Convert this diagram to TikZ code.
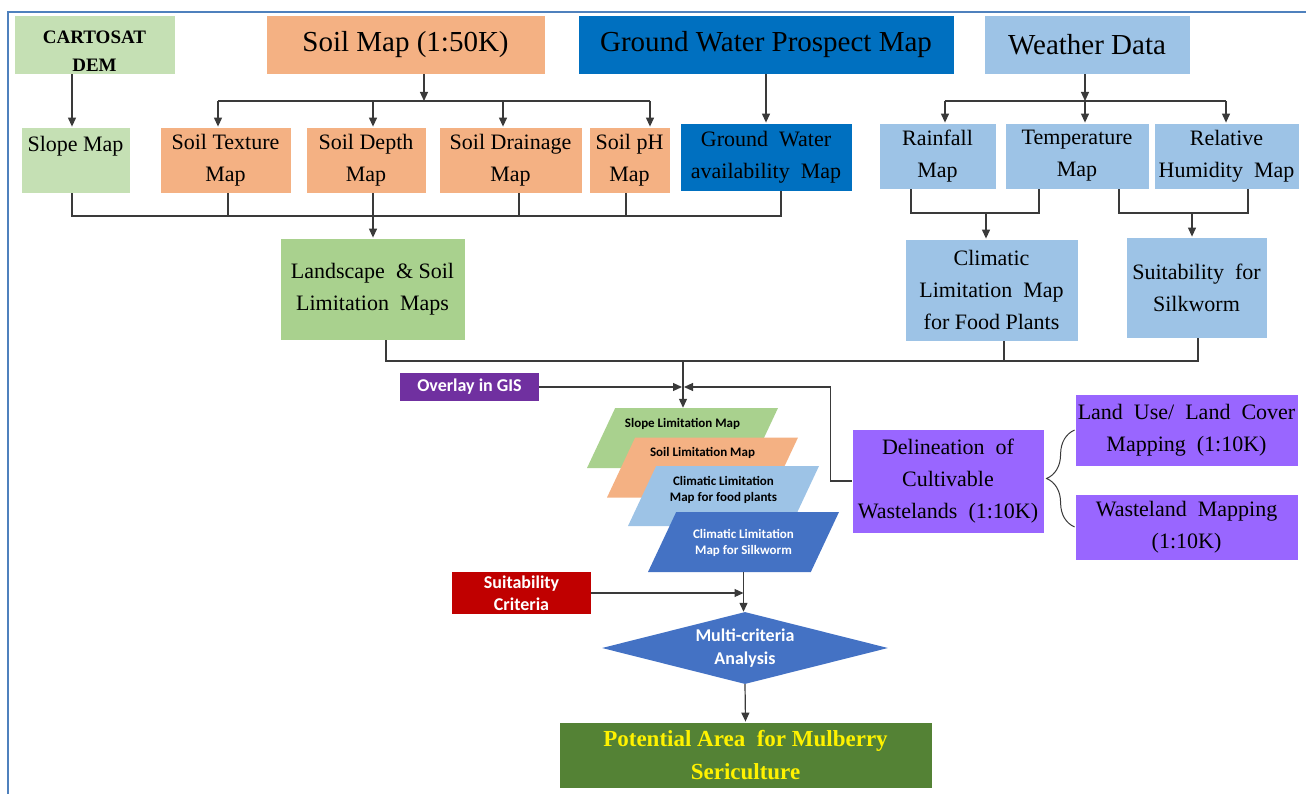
\documentclass[tikz,border=0pt]{standalone}
\usepackage{xcolor}
\usepackage{fontspec}
\setmainfont{Liberation Serif}
\newfontfamily\calibri{Carlito}
\usetikzlibrary{arrows.meta,positioning,shapes.geometric,decorations.pathreplacing}
\definecolor{LiteGreen}    {HTML}{C5E0B4}
\definecolor{SlopeGreen}   {HTML}{A9D18E}
\definecolor{SoilOrange}   {HTML}{F4B183}
\definecolor{WaterBlue}    {HTML}{0070C0}
\definecolor{SkyBlue}      {HTML}{9DC3E6}
\definecolor{LayerBlue}    {HTML}{4472C4}
\definecolor{OverlayPurple}{HTML}{7030A0}
\definecolor{WasteViolet}  {HTML}{9966FF}
\definecolor{CritRed}      {HTML}{C00000}
\definecolor{FinalGreen}   {HTML}{548235}
\definecolor{FrameBlue}    {HTML}{4F81BD}
\definecolor{LineGray}     {HTML}{3A3A3A}
\newcommand\titlesize{\rmfamily\fontsize{29pt}{34pt}\selectfont}
\newcommand\mapsize{\rmfamily\fontsize{22pt}{32pt}\selectfont}
\newcommand\demsize{\rmfamily\fontsize{19pt}{28pt}\selectfont\bfseries}
\newcommand\calsize{\calibri\bfseries\fontsize{18pt}{22pt}\selectfont}
\newcommand\calsmall{\calibri\bfseries\fontsize{13pt}{16pt}\selectfont}
\newcommand\finalsize{\rmfamily\fontsize{23pt}{33pt}\selectfont\bfseries}
\tikzset{
  mapbox/.style={draw=white,line width=0.8pt,inner sep=0pt,align=center,font=\mapsize},
  link/.style={draw=LineGray,line width=1.2pt},
  arr/.style={link,-{Triangle[length=9pt,width=8pt]}},
  layer/.style={trapezium,trapezium left angle=77,trapezium right angle=103,
    trapezium stretches=true,minimum width=191pt,minimum height=60pt,inner sep=0pt},
  layertext/.style={align=center,inner sep=0pt,font=\calsmall},
}

\begin{document}
\begin{tikzpicture}[x=1pt,y=-1pt]
  \useasboundingbox (0,0) rectangle (1306,794);
  \draw[FrameBlue,line width=2pt] (8,794) -- (8,12) -- (1306,12);

  % sources
  \node[mapbox,fill=LiteGreen,minimum width=161pt,minimum height=59pt,font=\demsize] (dem) at (94.5,44.5) {\rule{0pt}{27pt}CARTOSAT\\DEM};
  \node[mapbox,fill=SoilOrange,minimum width=279pt,minimum height=59pt,font=\titlesize] (soil) at (405.5,44.5) {Soil Map (1:50K)};
  \node[mapbox,fill=WaterBlue,minimum width=376pt,minimum height=59pt,font=\titlesize] (gwp) at (766,44.5) {Ground Water Prospect Map};
  \node[mapbox,fill=SkyBlue,minimum width=206pt,minimum height=59pt,font=\titlesize] (weather) at (1087,44.5) {Weather Data};

  % thematic maps
  \node[mapbox,fill=LiteGreen,minimum width=109pt,minimum height=66pt] (slope) at (75.5,160) {Slope Map\\~};
  \node[mapbox,fill=SoilOrange,minimum width=131pt,minimum height=66pt] (texture) at (225.5,160) {Soil Texture\\Map};
  \node[mapbox,fill=SoilOrange,minimum width=120pt,minimum height=66pt] (depth) at (366,160) {Soil Depth\\Map};
  \node[mapbox,fill=SoilOrange,minimum width=143pt,minimum height=66pt] (drainage) at (510.5,160) {Soil Drainage\\Map};
  \node[mapbox,fill=SoilOrange,minimum width=81pt,minimum height=66pt] (ph) at (629.5,160) {Soil pH\\Map};
  \node[mapbox,fill=WaterBlue,minimum width=172pt,minimum height=68pt] (gwa) at (766,157) {Ground\ \ Water\\availability\ \ Map};
  \node[mapbox,fill=SkyBlue,minimum width=117pt,minimum height=66pt] (rain) at (937.5,156) {Rainfall\\Map};
  \node[mapbox,fill=SkyBlue,minimum width=144pt,minimum height=66pt] (temp) at (1077,156) {Temperature\\Map};
  \node[mapbox,fill=SkyBlue,minimum width=145pt,minimum height=66pt] (rh) at (1226.5,156) {Relative\\Humidity\ \ Map};

  % limitation maps
  \node[mapbox,fill=SlopeGreen,minimum width=185pt,minimum height=102pt] (land) at (372.5,289) {Landscape\ \ \& Soil\\Limitation\ \ Maps};
  \node[mapbox,fill=SkyBlue,minimum width=173pt,minimum height=102pt] (clim) at (991.5,290) {Climatic\\Limitation\ \ Map\\for Food Plants};
  \node[mapbox,fill=SkyBlue,minimum width=141pt,minimum height=101pt] (silk) at (1196.5,287.5) {Suitability\ \ for\\Silkworm};

  % overlay
  \node[fill=OverlayPurple,text=white,font=\calsize,inner sep=0pt,minimum width=139pt,minimum height=28pt] (overlay) at (469.5,387) {Overlay in GIS};
  \node[layer,fill=SlopeGreen] (p1) at (682.5,438) {\phantom{X}};
  \node[layertext] (t1) at (682.5,424) {Slope Limitation Map};
  \node[layer,fill=SoilOrange] (p2) at (702.5,467.5) {\phantom{X}};
  \node[layertext] (t2) at (702.5,453) {Soil Limitation Map};
  \node[layer,fill=SkyBlue] (p3) at (723.5,496) {\phantom{X}};
  \node[layertext] (t3) at (723.5,490) {Climatic Limitation\\Map for food plants};
  \node[layer,fill=LayerBlue] (p4) at (743.5,542) {\phantom{X}};
  \node[layertext,text=white] (t4) at (743.5,543) {Climatic Limitation\\Map for Silkworm};

  % wastelands
  \node[mapbox,fill=WasteViolet,minimum width=192pt,minimum height=104pt] (delin) at (948,481) {Delineation\ \ of\\Cultivable\\Wastelands\ \ (1:10K)};
  \node[mapbox,fill=WasteViolet,minimum width=223pt,minimum height=72pt] (landuse) at (1186.5,430) {Land\ \ Use/\ \ Land\ \ Cover\\Mapping\ \ (1:10K)};
  \node[mapbox,fill=WasteViolet,minimum width=223pt,minimum height=66pt] (waste) at (1186.5,527) {Wasteland\ \ Mapping\\(1:10K)};

  % analysis
  \node[fill=CritRed,text=white,font=\calsize,align=center,inner sep=0pt,minimum width=139pt,minimum height=42pt] (suit) at (521.5,593) {Suitability\\Criteria};
  \node[diamond,aspect=3.97,fill=LayerBlue,text=white,align=center,inner sep=0pt,
        font={\calibri\bfseries\fontsize{18pt}{23pt}\selectfont},minimum width=286pt,minimum height=72pt] (mca) at (745,648) {Multi-criteria\\Analysis};
  \node[mapbox,fill=FinalGreen,text=yellow,font=\finalsize,minimum width=373pt,minimum height=66pt] (final) at (745.5,755) {Potential Area\ \ for Mulberry\\Sericulture};

  % top connectors
  \draw[arr] ([xshift=-3.5pt]slope.north |- dem.south) -- ([xshift=-3.5pt]slope.north);
  \coordinate (sj) at (424,101);
  \draw[arr] (sj |- soil.south) -- (sj);
  \draw[link] ([xshift=-7.5pt]texture.north |- sj) -- ([xshift=20.5pt]ph.north |- sj);
  \foreach \n/\dx in {texture/-7.5pt,depth/7pt,drainage/-7.5pt,ph/20.5pt}
    \draw[arr] ([xshift=\dx]\n.north |- sj) -- ([xshift=\dx]\n.north);
  \draw[arr] (gwp.south) -- (gwa.north);
  \coordinate (wj) at (1085,101);
  \draw[arr] (wj |- weather.south) -- (wj);
  \draw[link] ([xshift=7.5pt]rain.north |- wj) -- ([xshift=-0.5pt]rh.north |- wj);
  \foreach \n/\dx in {rain/7.5pt,temp/8pt,rh/-0.5pt}
    \draw[arr] ([xshift=\dx]\n.north |- wj) -- ([xshift=\dx]\n.north);

  % collecting lines
  \coordinate (bj) at (373,216);
  \draw[link] ([xshift=-3.5pt]slope.south) |- ([xshift=15pt]gwa.south |- bj) -- ([xshift=15pt]gwa.south);
  \foreach \n/\dx in {texture/2.5pt,depth/7pt,drainage/8.5pt,ph/-3.5pt}
    \draw[link] ([xshift=\dx]\n.south) -- ([xshift=\dx]\n.south |- bj);
  \draw[arr] (bj) -- (bj |- land.north);
  \coordinate (cj) at (986,213);
  \draw[link] ([xshift=-26.5pt]rain.south) |- ([xshift=-38pt]temp.south |- cj) -- ([xshift=-38pt]temp.south);
  \draw[arr] (cj) -- (cj |- clim.north);
  \coordinate (hj) at (1192,213);
  \draw[link] ([xshift=42pt]temp.south) |- ([xshift=21.5pt]rh.south |- hj) -- ([xshift=21.5pt]rh.south);
  \draw[arr] (hj) -- (hj |- silk.north);

  % into overlay
  \coordinate (oj) at (683,361);
  \draw[link] ([xshift=13.5pt]land.south) |- ([xshift=1.5pt]silk.south |- oj) -- ([xshift=1.5pt]silk.south);
  \draw[link] ([xshift=12.5pt]clim.south) -- ([xshift=12.5pt]clim.south |- oj);
  \draw[arr] (oj) -- (oj |- p1.north);
  \draw[arr] (overlay.east) -- ([xshift=-1pt]oj |- overlay.east);
  \draw[arr] (delin.west) -- ++(-21,0) |- ([xshift=1pt]oj |- overlay.east);
  \draw[link,line width=1pt,decorate,decoration={brace,amplitude=28pt}] (waste.west) -- (landuse.west);

  % analysis chain
  \draw[arr] (suit.east) -- (p4.center |- suit.east);
  \draw[arr] (p4.center |- p4.south) -- (p4.center |- mca.north);
  \draw[arr] (mca.south) -- (final.north);
\end{tikzpicture}
\end{document}
